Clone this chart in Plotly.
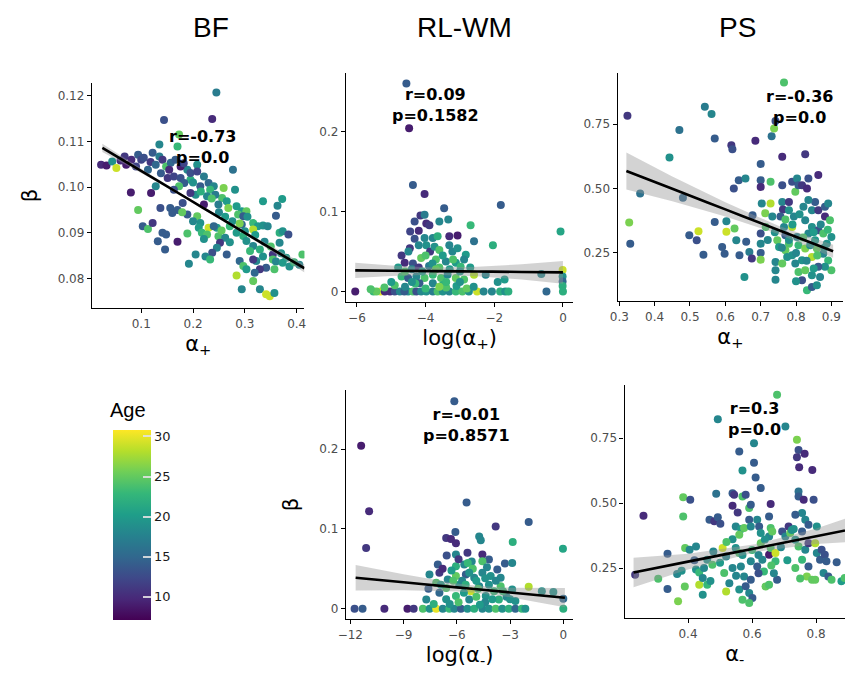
import plotly.graph_objects as go

# ---------------- data ----------------
# BF panel: alpha+ vs beta
bf_x = [0.245,0.144,0.237,0.173,0.135,0.170,0.0225,0.033,0.044,0.052,0.068,0.081,0.094,0.100,0.113,0.122,0.135,0.141,0.148,0.157,
        0.138,0.151,0.163,0.176,0.189,0.208,0.195,0.183,0.173,0.128,0.080,0.119,0.221,0.230,0.240,0.233,0.205,0.221,0.259,0.277,
        0.281,0.256,0.265,0.249,0.268,0.284,0.294,0.303,0.287,0.297,0.156,0.170,0.189,0.160,0.137,0.094,0.103,0.113,0.122,0.141,
        0.132,0.148,0.170,0.146,0.189,0.208,0.214,0.211,0.217,0.230,0.227,0.221,0.246,0.240,0.249,0.271,0.262,0.252,0.271,0.284,
        0.294,0.316,0.325,0.335,0.344,0.316,0.300,0.297,0.303,0.316,0.310,0.329,0.335,0.354,0.335,0.372,0.363,0.360,0.367,0.373,
        0.384,0.367,0.354,0.360,0.373,0.386,0.411,0.341,0.357,0.329,0.322,0.290,0.297,0.303,0.284,0.319,0.316,0.294,0.329,0.341,
        0.348,0.357,0.316,0.265,0.246,0.237,0.224,0.205,0.192,0.233,0.179,0.154,0.176,0.195,0.208,0.214,0.227,0.243,0.195,0.163,0.071,
        0.105,0.118,0.128,0.166,0.182,0.200,0.215,0.236,0.250,0.262,0.276,0.290,0.305,0.320,0.338,0.350,0.370,0.380,0.395,0.405,
        0.255,0.200,0.180,0.060,0.090]
bf_y = [0.1207,0.1147,0.1149,0.1115,0.1093,0.1089,0.1049,0.1047,0.1056,0.1042,0.1067,0.1060,0.1071,0.1060,0.1038,0.1075,0.1067,0.1060,0.1045,0.1053,
        0.1030,0.1020,0.1023,0.1020,0.1038,0.1049,0.1016,0.1009,0.1002,0.1002,0.0988,0.0987,0.1023,0.1009,0.1002,0.0994,0.0983,0.0962,0.0998,0.1038,
        0.0994,0.0976,0.0969,0.0962,0.0954,0.0958,0.0947,0.0947,0.0940,0.0936,0.0954,0.0950,0.0940,0.0943,0.0954,0.0950,0.0914,0.0908,0.0921,0.0900,
        0.0881,0.0896,0.0880,0.0863,0.0898,0.0936,0.0921,0.0911,0.0900,0.0911,0.0896,0.0886,0.0911,0.0914,0.0892,0.0914,0.0889,0.0878,0.0879,0.0900,
        0.0918,0.0921,0.0914,0.0916,0.0914,0.0907,0.0903,0.0893,0.0882,0.0871,0.0860,0.0863,0.0848,0.0852,0.0969,0.0974,0.0959,0.0937,0.0900,0.0903,
        0.0896,0.0878,0.0841,0.0837,0.0834,0.0826,0.0852,0.0823,0.0820,0.0820,0.0838,0.0838,0.0827,0.0820,0.0806,0.0812,0.0794,0.0776,0.0776,0.0765,
        0.0761,0.0768,0.0841,0.0852,0.0867,0.0856,0.0848,0.0852,0.0832,0.0841,0.0945,0.1038,0.1045,0.1031,0.1034,0.1002,0.0980,0.0983,0.0987,0.0994,0.1049,
        0.1064,0.1055,0.1049,0.1060,0.1052,0.1010,0.0990,0.0975,0.0945,0.0935,0.0925,0.0920,0.0935,0.0895,0.0880,0.0870,0.0855,0.0845,0.0835,0.0830,
        0.0905,0.0925,0.0965,0.1058,0.1045]
bf_age = [17,13,10,25,18,23,10,9,19,29,11,10,14,12,15,14,17,11,24,15,
          14,11,12,13,18,19,22,14,24,18,9,9,17,15,18,23,19,9,26,16,
          19,24,20,17,26,20,20,25,24,14,14,14,14,14,13,25,14,24,11,14,
          14,14,9,14,24,25,19,20,23,29,24,19,20,15,24,23,18,11,19,20,
          15,23,20,19,18,28,19,22,19,18,23,22,19,11,20,20,18,14,22,19,
          13,18,24,18,20,19,24,14,24,11,18,15,24,20,28,15,25,18,18,29,
          29,19,11,14,18,13,18,18,18,23,25,10,9,13,12,14,18,17,11,13,9,
          13,11,15,14,12,19,22,24,18,20,19,26,19,20,18,24,19,20,23,18,
          25,18,13,10,12]

# RL-WM panel 1: log(alpha+) vs beta
rl1_x = [-4.56,-4.48,-4.37,-4.03,-3.46,-1.81,-4.15,-4.03,-4.32,-3.98,-3.89,-3.60,-3.34,-2.69,-4.20,-4.32,-4.03,-3.79,-3.65,-3.31,
         -3.07,-2.59,-2.04,-0.07,-4.46,-4.20,-3.98,-3.87,-3.74,-3.60,-3.31,-3.22,-3.07,-2.83,-2.88,-4.61,-4.37,-4.13,-3.70,-3.41,
         -3.12,-2.98,-4.70,-4.51,-4.27,-4.03,-3.79,-3.55,-3.36,-3.12,-2.88,-2.59,-2.25,-0.63,-0.01,-0.01,-0.01,-0.01,-3.79,-3.50,
         -4.18,-6.05,-5.52,-5.31,-5.04,-4.90,-4.75,-4.51,-4.37,-4.27,-4.13,-3.98,-3.79,-3.65,-3.50,-3.31,-3.12,-2.93,-2.74,-2.50,
         -2.31,-2.07,-1.83,-1.68,-1.59,-0.48,0.00,-5.43,-5.19,-4.62,-4.80,-4.60,-4.40,-4.20,-3.90,-3.60,-3.30,-3.00,-4.90,-4.60,
         -4.30,-3.40,-3.10,-2.80,-1.90,-1.70,-5.60,
         -4.70,-4.50,-4.00,-3.80,-3.50,-3.20,-4.40,-4.10,-3.70,-3.40,-3.00,-2.70,-5.00,-5.20,-4.00,-3.60,-2.60,-4.45]
rl1_y = [0.260,0.204,0.133,0.122,0.104,0.108,0.095,0.096,0.0875,0.085,0.083,0.0875,0.090,0.083,0.076,0.066,0.067,0.067,0.069,0.069,
         0.070,0.063,0.058,0.075,0.054,0.058,0.058,0.050,0.056,0.052,0.058,0.050,0.054,0.046,0.040,0.036,0.035,0.042,0.040,0.0375,
         0.036,0.031,0.019,0.017,0.019,0.017,0.021,0.017,0.021,0.017,0.015,0.021,0.021,0.022,0.027,0.019,0.0125,0.007,0.0104,0.0083,
         0.0104,0,0,0,0,0,0,0,0,0,0,0,0,0,0,0,0,0,0,0,
         0,0,0,0,0,0,0,0,0,0,0.030,0.025,0.028,0.030,0.032,0.030,0.028,0.025,0.008,0.006,
         0.010,0.005,0.007,0.004,0.012,0.015,0.003,
         0.045,0.050,0.045,0.035,0.045,0.040,0.012,0.025,0.028,0.012,0.012,0.030,0.012,0.005,0.004,0.006,0.006,0.075]
rl1_age = [14,9,14,10,14,14,11,17,13,10,11,18,18,23,10,13,18,18,22,10,
           9,16,22,21,11,18,19,11,19,24,18,18,19,20,18,10,13,25,24,18,
           20,23,23,14,18,24,23,24,18,25,24,28,18,18,29,19,15,22,18,22,
           14,9,23,30,10,13,18,19,24,13,18,19,17,24,19,18,23,24,19,29,
           18,18,22,19,22,15,22,25,10,14,20,24,18,11,17,24,20,19,24,18,
           23,24,20,25,19,20,24,
           11,18,24,19,20,24,19,20,25,23,19,20,20,24,23,26,19,12]

# PS panel 1: alpha+ vs beta
ps1_x = [0.323,0.328,0.331,0.359,0.442,0.470,0.480,0.542,0.561,0.570,0.570,0.538,0.519,0.524,0.498,0.603,0.603,0.591,0.598,0.617,
         0.620,0.624,0.626,0.631,0.640,0.638,0.657,0.654,0.659,0.668,0.675,0.677,0.685,0.700,0.700,0.700,0.703,0.700,0.700,0.700,
         0.700,0.713,0.714,0.728,0.728,0.731,0.733,0.738,0.742,0.766,0.761,0.761,0.761,0.763,0.756,0.766,0.770,0.747,0.752,0.742,
         0.742,0.742,0.780,0.780,0.789,0.794,0.798,0.803,0.807,0.817,0.826,0.831,0.835,0.863,0.789,0.803,0.807,0.789,0.798,0.807,
         0.817,0.831,0.845,0.845,0.854,0.863,0.882,0.891,0.882,0.826,0.845,0.835,0.863,0.877,0.887,0.854,0.859,0.877,0.891,0.900,
         0.882,0.863,0.868,0.845,0.859,0.900,0.896,0.826,0.817,0.826,0.780,0.770,0.775,0.761,0.845,0.835,0.821,
         0.780,0.790,0.800,0.810,0.820,0.830,0.840,0.850,0.860,0.870,0.880,0.890,0.760,0.770,0.720,0.740,0.850,0.800]
ps1_y = [0.782,0.368,0.286,0.481,0.620,0.727,0.464,0.817,0.789,0.694,0.370,0.243,0.299,0.334,0.319,0.373,0.332,0.273,0.247,0.668,
         0.652,0.500,0.345,0.299,0.241,0.532,0.539,0.157,0.293,0.254,0.228,0.396,0.685,0.595,0.532,0.506,0.442,0.325,0.286,0.250,
         0.224,0.404,0.351,0.526,0.442,0.703,0.391,0.733,0.762,0.911,0.623,0.513,0.448,0.418,0.391,0.351,0.319,0.299,0.273,0.215,
         0.183,0.146,0.448,0.416,0.526,0.391,0.487,0.539,0.513,0.513,0.633,0.500,0.539,0.552,0.351,0.312,0.280,0.241,0.209,0.176,
         0.144,0.105,0.118,0.416,0.448,0.416,0.429,0.442,0.391,0.377,0.351,0.325,0.338,0.325,0.286,0.299,0.267,0.247,0.221,0.183,
         0.196,0.196,0.157,0.163,0.125,0.312,0.377,0.183,0.222,0.267,0.286,0.260,0.234,0.209,0.234,0.455,0.429,
         0.300,0.360,0.250,0.400,0.310,0.220,0.280,0.330,0.240,0.360,0.270,0.340,0.270,0.380,0.300,0.330,0.190,0.140]
ps1_age = [11,26,14,16,19,16,15,17,18,14,14,14,13,29,14,18,29,14,14,11,
           13,13,25,18,14,14,18,19,14,17,11,14,10,14,14,10,18,13,18,14,
           26,26,24,24,28,16,18,26,13,24,10,13,18,11,14,18,14,25,20,18,
           18,18,11,19,13,18,25,18,14,11,11,10,13,10,28,18,23,19,18,24,
           13,23,14,18,14,11,14,18,10,18,19,18,13,24,19,20,25,18,23,24,
           19,14,18,19,19,19,24,25,19,26,24,25,19,25,28,18,18,
           19,20,18,19,24,18,19,20,24,18,19,23,18,24,18,19,20,19]

# RL-WM panel 2: log(alpha-) vs beta
rl2_x = [-6.14,-11.39,-10.94,-11.11,-5.45,-3.81,-1.95,-2.85,-0.02,-6.08,-6.60,-6.33,-6.05,-4.74,-4.65,-6.57,-6.05,-5.40,-4.56,-5.16,
         -4.19,-3.29,-2.88,-7.07,-6.05,-5.58,-5.38,-4.56,-3.72,-7.54,-6.98,-6.51,-6.05,-5.49,-5.02,-4.56,-4.09,-3.53,-7.16,-6.60,
         -5.86,-5.21,-4.74,-4.19,-3.53,-2.88,-1.95,-1.21,-0.56,0.00,0.00,-6.98,-6.05,-5.30,-4.37,-3.63,-2.70,-7.72,-11.76,-11.31,
         -10.08,-8.78,-8.43,-7.91,-7.53,-7.16,-6.79,-6.42,-6.14,-5.77,-5.40,-5.02,-4.56,-4.19,-3.81,-3.44,-3.07,-2.70,-2.33,-2.14,
         -6.80,-6.30,-5.90,-5.10,-4.90,-4.30,-5.60,-4.90,-4.40,-3.90,-3.20,-6.40,-7.30,
         -6.90,-6.20,-5.70,-5.30,-4.80,-4.40,-4.00,-3.80,-3.40,-3.00,-5.90,-5.50,-6.60,-7.60,-4.70]
rl2_y = [0.260,0.204,0.122,0.076,0.133,0.103,0.1085,0.0836,0.075,0.096,0.0886,0.0873,0.082,0.0906,0.0857,0.0665,0.068,0.070,0.068,0.059,
         0.0615,0.0565,0.0574,0.0553,0.0532,0.0553,0.0574,0.0595,0.049,0.043,0.045,0.0366,0.041,0.0428,0.0387,0.045,0.041,0.0387,0.0324,0.026,
         0.030,0.022,0.028,0.030,0.028,0.024,0.0274,0.022,0.0208,0.0125,0.0,0.020,0.0158,0.0116,0.0158,0.0116,0.0096,0.0116,0,0,
         0,0,0,0,0,0,0,0,0,0,0,0,0,0,0,0,0,0,0,0,
         0.050,0.048,0.062,0.050,0.035,0.052,0.020,0.015,0.008,0.022,0.015,0.006,0.006,
         0.030,0.035,0.035,0.045,0.025,0.038,0.012,0.035,0.022,0.012,0.008,0.030,0.012,0.025,0.005]
rl2_age = [14,9,10,11,14,11,14,22,21,14,11,10,10,18,18,13,18,11,10,18,
           14,14,18,14,22,18,23,24,14,18,11,18,25,14,18,18,19,18,24,24,
           19,29,18,19,24,19,28,19,19,15,22,15,23,18,19,22,19,18,13,14,
           10,9,11,24,19,30,18,23,18,14,19,22,18,19,24,19,22,15,23,19,
           10,20,11,24,20,18,20,24,18,23,18,19,22,
           20,24,18,19,24,19,20,18,23,19,24,22,19,14,20]

# PS panel 2: alpha- vs beta
ps2_x = [0.235,0.261,0.307,0.336,0.336,0.366,0.385,0.385,0.407,0.369,0.390,0.391,0.405,0.425,0.425,0.435,0.435,0.446,0.446,0.460,
         0.460,0.479,0.476,0.467,0.482,0.493,0.501,0.488,0.493,0.508,0.519,0.513,0.519,0.529,0.539,0.539,0.539,0.544,0.539,0.560,
         0.555,0.549,0.566,0.570,0.570,0.580,0.560,0.575,0.591,0.596,0.591,0.596,0.549,0.560,0.565,0.575,0.560,0.570,0.591,0.601,
         0.591,0.596,0.596,0.606,0.606,0.611,0.627,0.616,0.622,0.627,0.627,0.616,0.632,0.637,0.642,0.653,0.658,0.653,0.658,0.653,
         0.663,0.653,0.658,0.673,0.673,0.678,0.668,0.678,0.704,0.694,0.704,0.714,0.719,0.724,0.740,0.745,0.740,0.747,0.764,0.788,
         0.745,0.745,0.756,0.735,0.766,0.776,0.756,0.735,0.745,0.766,0.776,0.756,0.735,0.771,0.787,0.776,0.792,0.802,0.812,0.802,
         0.797,0.817,0.827,0.832,0.823,0.838,0.848,0.879,0.864,0.889,0.797,0.761,
         0.450,0.470,0.500,0.520,0.550,0.570,0.580,0.600,0.620,0.640,0.660,0.690,0.710,0.730,0.750,0.620,0.380,0.420]
ps2_y = [0.224,0.451,0.209,0.305,0.169,0.227,0.523,0.449,0.513,0.122,0.179,0.327,0.321,0.333,0.244,0.233,0.186,0.212,0.147,0.186,
         0.282,0.314,0.263,0.436,0.430,0.446,0.421,0.536,0.823,0.327,0.295,0.231,0.160,0.192,0.250,0.361,0.538,0.532,0.490,0.699,
         0.464,0.410,0.400,0.526,0.626,0.532,0.378,0.404,0.481,0.494,0.436,0.410,0.327,0.308,0.256,0.218,0.167,0.128,0.154,0.135,
         0.115,0.205,0.276,0.731,0.656,0.599,0.558,0.436,0.410,0.385,0.346,0.256,0.282,0.237,0.179,0.186,0.497,0.449,0.404,0.372,
         0.391,0.301,0.327,0.308,0.276,0.205,0.230,0.917,0.795,0.391,0.372,0.410,0.385,0.397,0.744,0.705,0.677,0.638,0.690,0.628,
         0.545,0.526,0.462,0.455,0.436,0.417,0.391,0.359,0.333,0.321,0.346,0.282,0.250,0.218,0.205,0.256,0.513,0.308,0.282,0.410,
         0.346,0.321,0.301,0.276,0.231,0.218,0.205,0.199,0.272,0.212,0.205,0.513,
         0.250,0.200,0.270,0.350,0.220,0.300,0.180,0.320,0.300,0.360,0.260,0.330,0.280,0.400,0.210,0.230,0.240,0.280]
ps2_age = [11,10,24,14,14,18,25,24,13,26,25,25,18,18,19,23,28,18,19,23,
           19,18,24,14,11,14,13,16,18,29,18,24,28,18,18,19,14,11,10,14,
           11,18,20,24,19,13,25,25,24,14,14,18,19,24,18,18,19,24,18,14,
           24,14,18,18,14,14,14,18,14,19,25,14,18,23,25,24,10,14,24,18,
           25,9,24,29,23,14,18,24,18,13,18,11,25,19,26,13,11,10,10,10,
           16,14,18,14,18,14,14,19,24,18,11,23,24,26,25,14,13,18,14,19,
           28,13,13,14,18,14,24,20,14,24,25,10,
           18,19,20,24,18,19,14,23,18,19,24,18,20,19,24,13,19,14]

# regression fits and 95% bands
bf_fit_x = [0.025, 0.12, 0.22, 0.32, 0.415]
bf_fit_y = [0.1086, 0.1022, 0.0954, 0.0886, 0.0822]
bf_fit_hw = [0.0009, 0.0004, 0.0003, 0.0004, 0.0009]

rl1_fit_x = [-6.05, -5.0, -3.8, -2.5, -1.2, 0.0]
rl1_fit_y = [0.0265, 0.0261, 0.0256, 0.0251, 0.0245, 0.0240]
rl1_fit_hw = [0.0096, 0.0065, 0.0045, 0.0060, 0.0095, 0.0143]

ps1_fit_x = [0.32, 0.45, 0.60, 0.75, 0.905]
ps1_fit_y = [0.568, 0.4988, 0.419, 0.339, 0.2566]
ps1_fit_hw = [0.072, 0.048, 0.028, 0.016, 0.025]

rl2_fit_x = [-11.7, -9.0, -6.0, -5.0, -3.0, 0.09]
rl2_fit_y = [0.0388, 0.0331, 0.0267, 0.0246, 0.0204, 0.0138]
rl2_fit_hw = [0.016, 0.010, 0.005, 0.0045, 0.006, 0.012]

ps2_fit_x = [0.23, 0.40, 0.62, 0.80, 0.95]
ps2_fit_y = [0.233, 0.2747, 0.3286, 0.3727, 0.4094]
ps2_fit_hw = [0.057, 0.030, 0.015, 0.030, 0.056]

stats = ["r=-0.73<br>p=0.0", "r=0.09<br>p=0.1582", "r=-0.36<br>p=0.0", "r=-0.01<br>p=0.8571", "r=0.3<br>p=0.0"]
stat_pos = [(0.218, 0.1088), (-3.71, 0.233), (0.81, 0.815), (-5.44, 0.23), (0.607, 0.823)]
col_titles = ["BF", "RL-WM", "PS"]
age_ticks = [10, 15, 20, 25, 30]

# ---------------- figure ----------------
fig = go.Figure()
panels = [
    (bf_x, bf_y, bf_age, bf_fit_x, bf_fit_y, bf_fit_hw, "x", "y"),
    (rl1_x, rl1_y, rl1_age, rl1_fit_x, rl1_fit_y, rl1_fit_hw, "x2", "y2"),
    (ps1_x, ps1_y, ps1_age, ps1_fit_x, ps1_fit_y, ps1_fit_hw, "x3", "y3"),
    (rl2_x, rl2_y, rl2_age, rl2_fit_x, rl2_fit_y, rl2_fit_hw, "x4", "y4"),
    (ps2_x, ps2_y, ps2_age, ps2_fit_x, ps2_fit_y, ps2_fit_hw, "x5", "y5"),
]
for i, (px, py, pa, fx, fy, fh, xa, ya) in enumerate(panels):
    fig.add_trace(go.Scatter(x=px, y=py, mode="markers", xaxis=xa, yaxis=ya,
                             marker=dict(size=8, color=pa, coloraxis="coloraxis", line=dict(width=0)),
                             showlegend=False, hoverinfo="skip"))
    lo = [a - b for a, b in zip(fy, fh)]
    hi = [a + b for a, b in zip(fy, fh)]
    fig.add_trace(go.Scatter(x=fx + fx[::-1], y=lo + hi[::-1], fill="toself", mode="lines",
                             line=dict(width=0), fillcolor="rgba(150,150,150,0.42)",
                             xaxis=xa, yaxis=ya, showlegend=False, hoverinfo="skip"))
    fig.add_trace(go.Scatter(x=fx, y=fy, mode="lines", line=dict(color="black", width=2.6, shape="spline"),
                             xaxis=xa, yaxis=ya, showlegend=False, hoverinfo="skip"))

W, H = 847, 680
def dom_x(a, b):
    return [a / W, min(b / W, 1.0)]
def dom_y(top, bottom):
    return [1 - bottom / H, 1 - top / H]

tickfont = dict(family="DejaVu Sans", size=12, color="#4d4d4d")
titlefont = dict(family="DejaVu Sans", size=21, color="black")

def ax(domain, rng, tickvals, ticktext, anchor, title=None, standoff=6):
    d = dict(domain=domain, range=rng, tickvals=tickvals, ticktext=ticktext, anchor=anchor,
             showline=True, linecolor="black", linewidth=1.4, ticks="outside", ticklen=4,
             tickcolor="black", tickwidth=1, showgrid=False, zeroline=False,
             tickfont=tickfont)
    if title:
        d["title"] = dict(text=title, font=titlefont, standoff=standoff)
    return d

a_plus = "α<sub>+</sub>"
a_minus = "α<sub>-</sub>"

fig.update_layout(
    width=W, height=H, autosize=False,
    margin=dict(l=0, r=0, t=0, b=0),
    paper_bgcolor="white", plot_bgcolor="white",
    xaxis=ax(dom_x(85, 300), [0.005, 0.415], [0.1, 0.2, 0.3, 0.4], ["0.1", "0.2", "0.3", "0.4"], "y", a_plus),
    yaxis=ax(dom_y(83, 308), [0.0735, 0.1228], [0.08, 0.09, 0.10, 0.11, 0.12],
             ["0.08", "0.09", "0.10", "0.11", "0.12"], "x", "β", 14),
    xaxis2=ax(dom_x(342, 572), [-6.32, 0.30], [-6, -4, -2, 0], ["−6", "−4", "−2", "0"], "y2", "log(" + a_plus + ")"),
    yaxis2=ax(dom_y(73, 302), [-0.013, 0.273], [0, 0.1, 0.2], ["0", "0.1", "0.2"], "x2"),
    xaxis3=ax(dom_x(617, 845), [0.2955, 0.933], [0.3, 0.4, 0.5, 0.6, 0.7, 0.8, 0.9],
              ["0.3", "0.4", "0.5", "0.6", "0.7", "0.8", "0.9"], "y3", a_plus),
    yaxis3=ax(dom_y(73, 301), [0.0635, 0.948], [0.25, 0.5, 0.75], ["0.25", "0.50", "0.75"], "x3"),
    xaxis4=ax(dom_x(342, 572), [-12.245, 0.56], [-12, -9, -6, -3, 0], ["−12", "−9", "−6", "−3", "0"], "y4",
              "log(" + a_minus + ")"),
    yaxis4=ax(dom_y(390, 619), [-0.0129, 0.274], [0, 0.1, 0.2], ["0", "0.1", "0.2"], "x4", "β", 14),
    xaxis5=ax(dom_x(624, 847), [0.2022, 0.89], [0.4, 0.6, 0.8], ["0.4", "0.6", "0.8"], "y5", a_minus),
    yaxis5=ax(dom_y(385, 618), [0.0577, 0.955], [0.25, 0.5, 0.75], ["0.25", "0.50", "0.75"], "x5"),
    coloraxis=dict(
        colorscale="Viridis", cmin=7.1, cmax=30.8,
        colorbar=dict(
            x=106 / W, xanchor="left", y=1 - 525 / H, yanchor="middle",
            lenmode="pixels", len=190, thicknessmode="pixels", thickness=38,
            xpad=0, ypad=0, outlinewidth=0,
            tickvals=age_ticks, ticktext=[str(t) for t in age_ticks],
            ticks="inside", ticklen=8, tickwidth=2, tickcolor="rgba(225,225,225,0.9)",
            tickfont=dict(family="DejaVu Sans", size=13, color="#1a1a1a"),
        ),
    ),
)

annotations = []
xrefs = ["x", "x2", "x3", "x4", "x5"]
yrefs = ["y", "y2", "y3", "y4", "y5"]
for txt, (sx, sy), xr, yr in zip(stats, stat_pos, xrefs, yrefs):
    annotations.append(dict(text="<b>" + txt + "</b>", x=sx, y=sy, xref=xr, yref=yr, showarrow=False,
                            font=dict(family="DejaVu Sans", size=16, color="black"), align="center"))
for t, cx in zip(col_titles, [205, 462, 738]):
    annotations.append(dict(text=t, x=cx / W, y=1 - 28 / H, xref="paper", yref="paper", showarrow=False,
                            xanchor="center", yanchor="middle",
                            font=dict(family="Liberation Sans", size=28, color="black")))
annotations.append(dict(text="Age", x=101 / W, y=1 - 410 / H, xref="paper", yref="paper", showarrow=False,
                        xanchor="left", yanchor="middle",
                        font=dict(family="Liberation Sans", size=20, color="black")))
fig.update_layout(annotations=annotations)

fig.write_html("out.html")
